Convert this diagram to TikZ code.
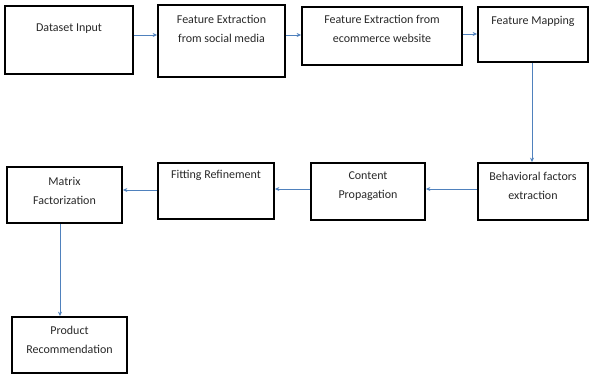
\documentclass[tikz,border=0pt]{standalone}
\usepackage{fontspec}
\setmainfont{Carlito}
\usetikzlibrary{arrows.meta,calc}
\definecolor{arrblue}{RGB}{79,129,189}
\definecolor{txtgray}{RGB}{40,40,40}
\tikzset{
  stepbox/.style={draw=black,line width=1.8pt,rectangle,inner sep=0pt},
  boxtext/.style={font=\fontsize{12}{19}\selectfont,text=txtgray,align=center,inner sep=0pt,anchor=center},
  arr/.style={draw=arrblue,line width=0.7pt,-{Stealth[length=4.5pt,width=4pt]}}
}
\begin{document}
\begin{tikzpicture}[x=1pt,y=-1pt]
\useasboundingbox (0,0) rectangle (590,375);
% boxes
\node[stepbox,minimum width=128pt,minimum height=68pt] (b1) at (69,40) {};
\node[stepbox,minimum width=127pt,minimum height=72pt] (b2) at (221.5,41) {};
\node[stepbox,minimum width=160pt,minimum height=58pt] (b3) at (382,36) {};
\node[stepbox,minimum width=110pt,minimum height=55pt] (b4) at (533,34.5) {};
\node[stepbox,minimum width=110pt,minimum height=57pt] (b5) at (533,191.5) {};
\node[stepbox,minimum width=114pt,minimum height=57pt] (b6) at (368,191.5) {};
\node[stepbox,minimum width=116pt,minimum height=56pt] (b7) at (216,191) {};
\node[stepbox,minimum width=115pt,minimum height=56pt] (b8) at (64.5,195) {};
\node[stepbox,minimum width=115pt,minimum height=56pt] (b9) at (69.5,345) {};
% texts
\node[boxtext] (t1) at ([yshift=-24pt]b1.north) {Dataset Input};
\node[boxtext] (t2) at ([yshift=-24.5pt]b2.north) {Feature Extraction\\from social media};
\node[boxtext] (t3) at ([yshift=-23pt]b3.north) {Feature Extraction from\\ecommerce website};
\node[boxtext] (t4) at ([yshift=-15pt]b4.north) {Feature Mapping};
\node[boxtext] (t5) at ([yshift=-24pt]b5.north) {Behavioral factors\\extraction};
\node[boxtext] (t6) at ([yshift=-24pt]b6.north) {Content\\Propagation};
\node[boxtext] (t7) at ([yshift=-13pt]b7.north) {Fitting Refinement};
\node[boxtext] (t8) at ([yshift=-25pt]b8.north) {Matrix\\Factorization};
\node[boxtext] (t9) at ([yshift=-24pt]b9.north) {Product\\Recommendation};
% connector levels
\coordinate (ya) at (0,35);
\coordinate (yb) at (0,34);
\coordinate (yc) at (0,189);
\coordinate (yd) at (0,190);
\coordinate (xa) at (532,0);
\coordinate (xb) at (60,0);
% connectors
\draw[arr] (b1.east |- ya) -- (b2.west |- ya);
\draw[arr] (b2.east |- ya) -- (b3.west |- ya);
\draw[arr] (b3.east |- yb) -- (b4.west |- yb);
\draw[arr] (xa |- b4.south) -- (xa |- b5.north);
\draw[arr] (b5.west |- yc) -- (b6.east |- yc);
\draw[arr] (b6.west |- yc) -- (b7.east |- yc);
\draw[arr] (b7.west |- yd) -- (b8.east |- yd);
\draw[arr] (xb |- b8.south) -- (xb |- b9.north);
\end{tikzpicture}
\end{document}
